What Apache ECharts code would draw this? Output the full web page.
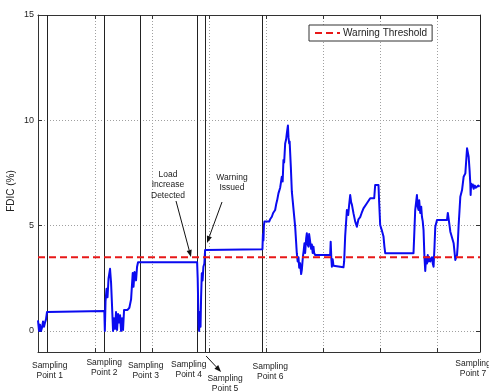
<!DOCTYPE html>
<html>
<head>
<meta charset="utf-8">
<script src="https://cdn.jsdelivr.net/npm/echarts@6/dist/echarts.min.js"></script>
<style>
  html, body { margin: 0; padding: 0; background: #fff; }
  #chart { width: 489px; height: 391px; }
</style>
</head>
<body>
<div id="chart"></div>
<script>
// FDIC trace: sample position (x) and FDIC value in percent (y)
const fdicTime = [
  0, 1.8, 3.5, 5.3, 7, 8.8, 10.5, 12.3, 14, 15.8, 17.5,
  116.3, 117.2, 118.4, 120.2, 121.9, 123.7, 126.3, 128.1, 129.8, 131.6, 133.3, 135.1, 136.8,
  138.6, 140.4, 142.1, 143.9, 145.6, 147.4, 149.1, 150.9, 157, 160.2, 163.2, 166.1, 167.5,
  169.3, 171.9, 173.7, 175.4,
  279, 280, 281.6, 282.5, 283.8, 285, 286, 287.2, 288.6, 290, 291.7, 293,
  393.5, 394.4, 395.3, 396.1, 397, 405.3, 407, 410, 412.3, 415.8, 417.5, 419.3, 421.6, 424.6,
  427.5, 429, 430.4, 431.6, 433.4, 435.1, 436.3, 438.2, 439.2, 440.4, 441.2, 443.3, 445.1,
  447.9, 450.9, 453.8, 455.3, 456.7, 458, 459.6, 461.4, 462.6, 464.4, 465.8, 467.2, 468.4,
  470.2, 471.4, 472.8, 474.3, 475.4, 477.2, 478.9, 480.2, 481.6, 483, 484.2, 486,
  512.3, 513.2, 514.4, 515.3, 516.7, 518.1, 521.1, 535.6, 536.8, 538.6, 541.6, 543.9, 545.6,
  547.4, 549.1, 550.4, 553.2, 556.1, 559.1, 561.9, 564.9, 567.5, 570.7, 573.7, 576.7, 578.9,
  582.5, 589.5, 591.2, 597, 598.2, 600, 602.6, 605.8, 607.4, 608.8,
  658.4, 659.6, 661.4, 664.4, 665.8, 667.2, 668.4, 670.2, 671.9, 673.2, 674.6, 676, 677.6,
  679, 680.4, 682, 683.4, 684.8, 686, 687.8, 690.8, 692.2, 693.6, 695.2, 696.6, 699.6,
  717.2, 718.6, 720, 721.6, 723, 725.6, 728.8, 730.5, 731.7, 733.5, 734.7, 735.8, 737.5,
  740.5, 743.5, 746.3, 749.3, 751.1, 752.3, 753.3, 755.1, 756.8, 758, 758.6, 759.4, 761,
  762.4, 763.8, 766, 767.7, 769.8, 772, 774.3, 775
];
const fdicValue = [
  0.5, 0.0, 0.3, 0.0, 0.15, 0.45, 0.2, 0.4, 0.55, 0.9, 0.95,
  0.95, 0.0, 1.4, 2.0, 1.6, 2.5, 2.95, 2.3, 1.2, 0.0, 0.6, 0.1, 0.9,
  0.05, 0.8, 0.4, 0.75, 0.0, 0.6, 0.05, 1.0, 1.0, 1.1, 1.5, 2.75, 2.1,
  2.8, 2.4, 3.05, 3.26,
  3.26, 2.5, 0.3, 0.0, 0.9, 0.2, 1.63, 2.74, 2.4, 3.05, 3.2, 3.84,
  3.88, 4.6, 4.3, 5.0, 5.19, 5.19, 5.3, 5.42, 5.6, 5.74, 6.0, 6.2, 6.53, 6.8,
  7.32, 7.1, 8.12, 8.0, 8.9, 9.1, 9.38, 9.75, 9.2, 8.9, 9.0, 7.8, 6.61,
  6.61, 4.95, 3.69, 3.3, 3.5, 3.0, 3.21, 2.7, 2.9, 3.5, 3.8, 4.16, 3.7,
  4.4, 4.64, 4.1, 4.0, 4.6, 4.64, 3.9, 4.1, 3.7, 4.0, 3.7, 3.6,
  3.6, 4.24, 3.4, 3.05, 3.4, 3.1, 3.02, 3.02, 3.3, 4.5, 5.74, 5.5, 6.0,
  6.45, 6.1, 6.0, 5.58, 5.2, 4.95, 5.3, 5.4, 5.6, 5.82, 5.9, 6.06, 6.1,
  6.3, 6.3, 6.93, 6.93, 6.1, 5.03, 4.8, 4.48, 4.0, 3.69,
  3.69, 4.5, 5.74, 6.45, 5.9, 5.74, 6.2, 5.6, 5.9, 5.42, 5.2, 4.79, 3.5,
  2.85, 3.5, 3.2, 3.6, 3.3, 3.5, 3.3, 3.5, 3.2, 3.05, 4.0, 4.95, 5.27,
  5.27, 5.6, 5.66, 5.0, 4.71, 4.7, 4.16, 3.7, 3.37, 3.29, 3.6, 4.0, 5.0,
  6.37, 6.69, 7.32, 7.48, 8.2, 8.67, 8.6, 8.27, 7.6, 7.0, 6.45, 7.0, 6.85,
  6.95, 6.75, 6.9, 6.8, 6.77, 6.9, 6.85, 6.85
];

// Sampling instants (vertical markers) and their captions
const samplingX = [17, 116, 180, 280, 293, 394, 775];
const samplingLabels = [
  'Sampling\nPoint 1', 'Sampling\nPoint 2', 'Sampling\nPoint 3', 'Sampling\nPoint 4',
  'Sampling\nPoint 5', 'Sampling\nPoint 6', 'Sampling\nPoint 7'
];
const warningThreshold = 3.5;
const yTickValues = [0, 5, 10, 15];
const xRange = [0, 775];
const yRange = [-1, 15];

const FONT = '"Liberation Sans", Arial, sans-serif';
const AXIS_COLOR = '#333';
const GRID_COLOR = '#a0a0a0';

const fdicData = fdicTime.map((t, i) => [t, fdicValue[i]]);

const chart = echarts.init(document.getElementById('chart'), null, { renderer: 'canvas' });

const hiddenLabel = { show: false };
const option = {
  animation: false,
  backgroundColor: '#fff',
  grid: { left: 38, right: 9, top: 15, bottom: 39, containLabel: false },
  legend: {
    left: 309, top: 25,
    padding: [3, 5, 3, 5],
    itemWidth: 25, itemHeight: 10, itemGap: 4,
    backgroundColor: '#fff',
    borderColor: '#333', borderWidth: 1, borderRadius: 0,
    itemStyle: { opacity: 0 },
    textStyle: { fontFamily: FONT, fontSize: 10, color: '#222', padding: [0, 0, 0, -2] },
    data: ['Warning Threshold'],
    selectedMode: false
  },
  xAxis: [{
    type: 'value', min: xRange[0], max: xRange[1], interval: 100,
    axisLine: { show: true, onZero: false, lineStyle: { color: AXIS_COLOR, width: 1 } },
    axisTick: { show: true, inside: true, length: 4, lineStyle: { color: AXIS_COLOR } },
    axisLabel: hiddenLabel,
    splitLine: { show: true, lineStyle: { type: [1, 2], color: GRID_COLOR, width: 1 } }
  }, {
    type: 'value', position: 'top', min: xRange[0], max: xRange[1], interval: 100,
    axisLine: { show: true, onZero: false, lineStyle: { color: AXIS_COLOR, width: 1 } },
    axisTick: { show: true, inside: true, length: 4, lineStyle: { color: AXIS_COLOR } },
    axisLabel: hiddenLabel,
    splitLine: { show: false }
  }],
  yAxis: [{
    type: 'value', min: yRange[0], max: yRange[1],
    axisLine: { show: true, onZero: false, lineStyle: { color: AXIS_COLOR, width: 1 } },
    axisTick: { show: true, inside: true, length: 4, customValues: yTickValues, lineStyle: { color: AXIS_COLOR } },
    axisLabel: { customValues: yTickValues, fontFamily: FONT, fontSize: 9, color: '#222', margin: 4 },
    splitLine: { show: true, lineStyle: { type: [1, 2], color: GRID_COLOR, width: 1 } }
  }, {
    type: 'value', position: 'right', min: yRange[0], max: yRange[1],
    axisLine: { show: true, onZero: false, lineStyle: { color: AXIS_COLOR, width: 1 } },
    axisTick: { show: true, inside: true, length: 4, customValues: yTickValues, lineStyle: { color: AXIS_COLOR } },
    axisLabel: { show: false, customValues: yTickValues },
    splitLine: { show: false }
  }],
  series: [{
    name: 'FDIC',
    type: 'line',
    data: fdicData,
    symbol: 'none',
    z: 3,
    lineStyle: { color: '#0a0af0', width: 2, join: 'round' },
    itemStyle: { color: '#0a0af0' },
    markLine: {
      silent: true,
      symbol: ['none', 'none'],
      label: { show: false },
      z: 2,
      lineStyle: { color: '#222', width: 1, type: 'solid' },
      data: samplingX.map(x => ({ xAxis: x }))
    }
  }, {
    name: 'Warning Threshold',
    type: 'line',
    data: [[xRange[0], warningThreshold], [xRange[1], warningThreshold]],
    symbol: 'none',
    z: 4,
    lineStyle: { color: '#e81818', width: 2, type: [7, 4] },
    itemStyle: { color: '#e81818' }
  }]
};
chart.setOption(option);

// Arrow made of a shaft and a filled head, ending at (x2, y2)
function arrow(x1, y1, x2, y2) {
  const ang = Math.atan2(y2 - y1, x2 - x1);
  const L = 7, W = 2.6;
  const bx = x2 - L * Math.cos(ang), by = y2 - L * Math.sin(ang);
  const px = -Math.sin(ang) * W, py = Math.cos(ang) * W;
  return [
    { type: 'line', shape: { x1, y1, x2: bx, y2: by }, style: { stroke: '#111', lineWidth: 1 }, z: 10 },
    { type: 'polygon', shape: { points: [[x2, y2], [bx + px, by + py], [bx - px, by - py]] }, style: { fill: '#111' }, z: 10 }
  ];
}

function note(text, x, y) {
  return {
    type: 'text', x, y, z: 10,
    style: {
      text, fill: '#222', font: '8.5px ' + FONT,
      textAlign: 'center', textVerticalAlign: 'top', lineHeight: 10.5
    }
  };
}

// Caption placement relative to each sampling marker (dx from line, top y)
const captionDx = [2, 0, 5, -9, 20, 7.5, -7];
const captionTop = [360, 357, 360, 359, 373, 361, 358];

const graphics = [];
samplingX.forEach((sx, i) => {
  const px = chart.convertToPixel({ xAxisIndex: 0 }, sx);
  graphics.push(note(samplingLabels[i], px + captionDx[i], captionTop[i]));
});

// Arrow from the marker of sampling point 5 down to its caption
const sp5 = chart.convertToPixel({ xAxisIndex: 0 }, samplingX[4]);
graphics.push(...arrow(sp5 + 1, 356, sp5 + 16, 372));

// Event annotations
graphics.push(note('Load\nIncrease\nDetected', 168, 169));
graphics.push(...arrow(176, 201, 191, 257));
graphics.push(note('Warning\nIssued', 232, 172));
graphics.push(...arrow(222, 202, 207, 243));

// Y axis title
graphics.push({
  type: 'text', x: 11, y: 191, rotation: Math.PI / 2, z: 10,
  style: { text: 'FDIC (%)', fill: '#222', font: '10px ' + FONT, textAlign: 'center', textVerticalAlign: 'middle' }
});

chart.setOption({ graphic: graphics });
</script>
</body>
</html>
